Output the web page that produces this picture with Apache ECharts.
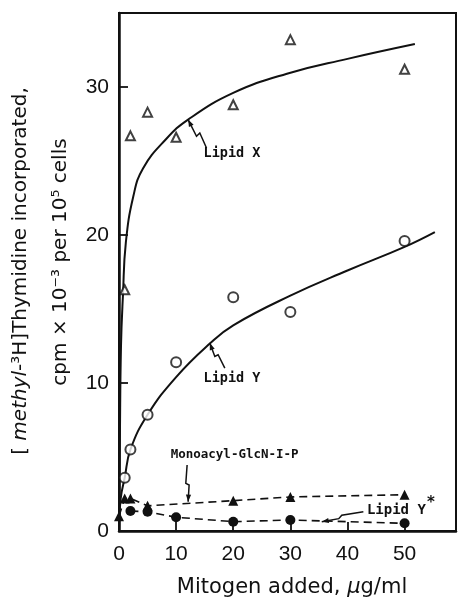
<!DOCTYPE html>
<html><head><meta charset="utf-8">
<script src="https://cdn.jsdelivr.net/npm/echarts@6/dist/echarts.min.js"></script>
<style>html,body{margin:0;padding:0;background:#fff}#c{width:458px;height:600px}</style>
</head><body><div id="c"></div>
<script>
// ---- data ----
const doseX = [1, 2, 5, 10, 20, 30, 50];
const lipidXValues = [16.3, 26.7, 28.3, 26.6, 28.8, 33.2, 31.2];
const lipidYValues = [3.6, 5.5, 7.85, 11.4, 15.8, 14.8, 19.6];
const monoDose = [0, 1, 2, 5, 20, 30, 50];
const monoValues = [1.0, 2.2, 2.2, 1.7, 2.05, 2.3, 2.45];
const ystarDose = [2, 5, 10, 20, 30, 50];
const ystarValues = [1.35, 1.3, 0.93, 0.63, 0.74, 0.52];
const fitXDose = [0, 0.15, 0.35, 0.7, 1.2, 2.5, 4.2, 8.3, 12.1, 20, 29.4, 40, 51.8];
const fitXValues = [0, 6, 12.5, 16, 19.5, 22.6, 24.5, 26.5, 27.8, 29.6, 30.9, 31.9, 32.9];
const fitYDose = [0, 0.3, 1, 2, 5, 10, 16, 20, 30, 40, 50, 55.3];
const fitYValues = [0, 2.2, 3.6, 5.5, 7.85, 10.4, 12.7, 13.9, 15.9, 17.6, 19.2, 20.2];
const xRange = [0, 59], xStep = 10;
const yRange = [0, 35], yStep = 10;

const pts = (xs, ys) => xs.map((x, i) => [x, ys[i]]);
const BLACK = '#111';
const tickFont = 'Liberation Sans';

const axisCommon = {
  type: 'value',
  axisLine: { show: true, lineStyle: { color: BLACK, width: 2.5 } },
  axisTick: { show: true, inside: true, length: 9, lineStyle: { color: BLACK, width: 1.8 } },
  splitLine: { show: false },
  axisLabel: { color: BLACK, fontFamily: tickFont, fontSize: 21, showMaxLabel: false }
};

const option = {
  animation: false,
  backgroundColor: '#fff',
  grid: { left: 119, right: 2, top: 13, bottom: 69, show: true, borderColor: BLACK, borderWidth: 2 },
  xAxis: Object.assign({}, axisCommon, { min: xRange[0], max: xRange[1], interval: xStep,
    axisLabel: Object.assign({}, axisCommon.axisLabel, { margin: 13 }) }),
  yAxis: Object.assign({}, axisCommon, { min: yRange[0], max: yRange[1], interval: yStep,
    axisLabel: Object.assign({}, axisCommon.axisLabel, { margin: 10 }) }),
  series: [
    { name: 'Lipid X fit', type: 'line', data: pts(fitXDose, fitXValues), smooth: 0.45,
      symbol: 'none', lineStyle: { color: BLACK, width: 2 }, z: 2, silent: true, clip: true },
    { name: 'Lipid Y fit', type: 'line', data: pts(fitYDose, fitYValues), smooth: 0.45,
      symbol: 'none', lineStyle: { color: BLACK, width: 2 }, z: 2, silent: true, clip: true },
    { name: 'Monoacyl-GlcN-I-P', type: 'line', data: pts(monoDose, monoValues), symbol: 'triangle', symbolSize: 10,
      itemStyle: { color: BLACK }, lineStyle: { color: BLACK, width: 1.6, type: [8, 5] }, z: 3 },
    { name: 'Lipid Y*', type: 'line', data: pts(ystarDose, ystarValues), symbol: 'circle', symbolSize: 10,
      itemStyle: { color: BLACK }, lineStyle: { color: BLACK, width: 1.6, type: [8, 5] }, z: 3 },
    { name: 'Lipid X', type: 'scatter', data: pts(doseX, lipidXValues), symbol: 'triangle', symbolSize: 9,
      itemStyle: { color: '#fff', borderColor: BLACK, borderWidth: 2 }, z: 5 },
    { name: 'Lipid Y', type: 'scatter', data: pts(doseX, lipidYValues), symbol: 'circle', symbolSize: 10,
      itemStyle: { color: '#fff', borderColor: BLACK, borderWidth: 2 }, z: 5 }
  ]
};

const chart = echarts.init(document.getElementById('c'), null, { renderer: 'canvas' });
chart.setOption(option);

// ---- annotations anchored to data coordinates ----
const P = (v) => chart.convertToPixel({ gridIndex: 0 }, v);
const noteFont = { fontFamily: 'DejaVu Sans Mono', fontWeight: 'bold', fontSize: 13 };
const notes = [
  { text: 'Lipid X', at: [14.8, 25.5], tip: [12.1, 27.8], path: [[18.4, 28.4], [11.7, 13.4], [8.4, 16.7], [0, 0]], size: 13.5 },
  { text: 'Lipid Y', at: [14.8, 10.3], tip: [15.9, 12.7], path: [[15, 25], [8.3, 11.7], [5, 13.4], [0, 0]], size: 13.5 },
  { text: 'Monoacyl-GlcN-I-P', at: [9.05, 5.15], tip: [12.1, 1.98], path: [[-1, -36.7], [-2.3, -18.4], [1, -16.7], [0, 0]], size: 12.5 },
  { text: 'Lipid Y', at: [43.4, 1.42], tip: [35.5, 0.63], path: [[41.6, -10], [20, -6.5], [17, -3], [0, 0]], star: true, size: 14 }
];

const graphics = [];
notes.forEach(n => {
  const a = P(n.at), t = P(n.tip);
  graphics.push({ type: 'text', x: a[0], y: a[1], z: 10,
    style: Object.assign({ text: n.text, fill: BLACK, align: 'left', verticalAlign: 'middle' }, noteFont, { fontSize: n.size }) });
  if (n.star) {
    graphics.push({ type: 'text', x: a[0] + 60, y: a[1] - 7, z: 10,
      style: { text: '*', fill: BLACK, fontFamily: 'DejaVu Sans', fontWeight: 'bold', fontSize: 15, align: 'left', verticalAlign: 'middle' } });
  }
  const pl = n.path.map(o => [t[0] + o[0], t[1] + o[1]]);
  graphics.push({ type: 'polyline', z: 10, shape: { points: pl }, style: { stroke: BLACK, lineWidth: 1.5, fill: null } });
  const prev = pl[pl.length - 2];
  const dx = t[0] - prev[0], dy = t[1] - prev[1], L = Math.hypot(dx, dy);
  const ux = dx / L, uy = dy / L, len = 7, w = 2.6;
  graphics.push({ type: 'polygon', z: 10, shape: { points: [
    [t[0], t[1]],
    [t[0] - ux * len - uy * w, t[1] - uy * len + ux * w],
    [t[0] - ux * len + uy * w, t[1] - uy * len - ux * w]
  ] }, style: { fill: BLACK } });
});

// axis titles
graphics.push({ type: 'text', x: 21, y: 271, rotation: Math.PI / 2, z: 10,
  style: { text: '{n|[ }{i|methyl}{n|-³H]Thymidine incorporated,}', align: 'center', verticalAlign: 'middle',
    rich: { n: { fontFamily: 'DejaVu Sans', fontSize: 20, fill: BLACK }, i: { fontFamily: 'DejaVu Sans', fontStyle: 'italic', fontSize: 20, fill: BLACK } } } });
graphics.push({ type: 'text', x: 61, y: 262, rotation: Math.PI / 2, z: 10,
  style: { text: 'cpm × 10⁻³ per 10⁵ cells', align: 'center', verticalAlign: 'middle', fontFamily: 'DejaVu Sans', fontSize: 20, fill: BLACK } });
graphics.push({ type: 'text', x: 292, y: 588, z: 10,
  style: { text: '{n|Mitogen added, }{i|μ}{n|g/ml}', align: 'center', verticalAlign: 'middle',
    rich: { n: { fontFamily: 'DejaVu Sans', fontSize: 21, fill: BLACK }, i: { fontFamily: 'DejaVu Sans', fontStyle: 'italic', fontSize: 21, fill: BLACK } } } });

chart.setOption({ graphic: graphics });
</script>
</body></html>
